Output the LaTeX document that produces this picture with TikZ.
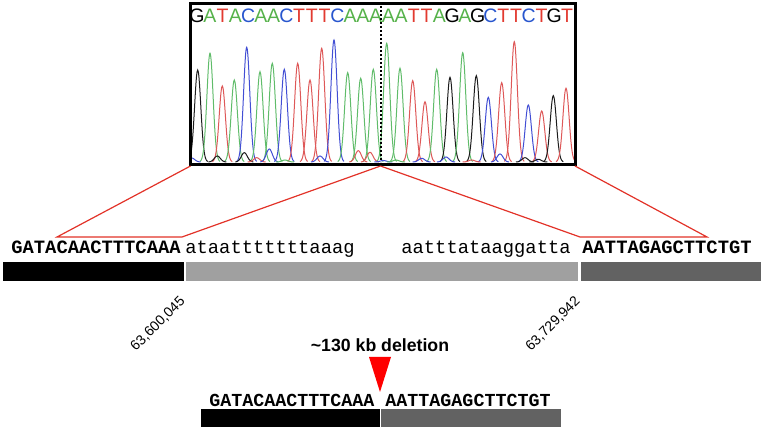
\documentclass[tikz,border=0pt]{standalone}
\usepackage{fontspec}
\setmainfont{Liberation Sans}
\newfontfamily\seqfont{Liberation Mono}
\usepackage{xcolor}
\usetikzlibrary{positioning,calc}
\definecolor{baseA}{RGB}{86,178,74}
\definecolor{baseT}{RGB}{226,58,48}
\definecolor{baseC}{RGB}{40,86,206}
\definecolor{baseG}{RGB}{0,0,0}
\definecolor{peakA}{RGB}{96,188,106}
\definecolor{peakT}{RGB}{222,88,88}
\definecolor{peakC}{RGB}{66,78,212}
\definecolor{peakG}{RGB}{28,28,28}
\definecolor{midgray}{RGB}{160,160,160}
\definecolor{deepgray}{RGB}{98,98,98}
\definecolor{zoomred}{RGB}{226,50,40}
\tikzset{
  basecall/.style={font=\fontsize{9.75}{10}\selectfont,inner sep=0pt,anchor=base},
  seqbold/.style={font=\seqfont\bfseries\fontsize{9.4}{10}\selectfont,inner sep=0pt,anchor=base west},
  seqlow/.style={font=\seqfont\fontsize{9.4}{10}\selectfont,inner sep=0pt,anchor=base west},
  joined/.style={font=\seqfont\bfseries\fontsize{9.17}{10}\selectfont,inner sep=0pt,anchor=base west},
  position/.style={font=\fontsize{7}{8}\selectfont,inner sep=0pt,rotate=45,anchor=east},
  zoomline/.style={draw=zoomred,line width=0.6pt},
  trace/.style={line width=0.5pt},
}

\begin{document}
\begin{tikzpicture}[x=0.5pt,y=-0.5pt]
  \useasboundingbox (0,0) rectangle (764,431);
  \coordinate (boxnw) at (190.5,3.5);
  \coordinate (boxse) at (575,164.5);
  \coordinate (boxsw) at (190.5,166);
  \coordinate (boxbr) at (575,166);
  \coordinate (cut) at (380.5,166);

  \begin{scope}
    \clip (boxnw) rectangle (boxse);
    \foreach \px/\py/\b in {197.7/70/G, 210/53.3/A, 222.3/86/T, 234.3/80/A, 246.7/47.3/C,
        260/71.7/A, 272.3/63.3/A, 284.3/69.3/C, 297.7/63.3/T, 310/80/T, 321.7/48.3/T,
        334/40/C, 347.7/72.7/A, 360.7/78.3/A, 373.3/69.3/A, 386.7/43.3/A, 400/68.3/A,
        412.7/80.7/T, 425/101.7/T, 436.7/69.3/A, 450/77.3/G, 462.7/52.7/A, 476.3/75.7/G,
        488.3/97.3/C, 501.7/82.7/T, 514.3/41.7/T, 528.3/105/C, 541.7/111/T, 553.3/95.7/G, 566/88.3/T}
      \draw[trace,peak\b] plot[domain=\px-10:\px+10,samples=33,smooth]
        (\x,{162-(162-\py)*exp(-((\x-\px)/3.1)^2/2)});
    \foreach \px/\py/\b in {191.7/158/C, 217.3/156/G, 244.3/152.7/G, 256.7/157.7/T, 269.3/149/C,
        285/160/A, 320/156/C, 358.3/150.7/T, 370/152.3/T, 383.3/160.5/C, 396/160/A,
        421.7/158.3/C, 446/157/C, 471.7/160/T, 500/154/C, 525/157.7/G, 538.3/159.3/G}
      \draw[trace,peak\b] plot[domain=\px-9:\px+9,samples=31,smooth]
        (\x,{162-(162-\py)*exp(-((\x-\px)/3)^2/2)});
  \end{scope}

  \foreach \b [count=\i from 0] in {G,A,T,A,C,A,A,C,T,T,T,C,A,A,A,A,A,T,T,A,G,A,G,C,T,T,C,T,G,T}
    \node[basecall,text=base\b] (call\i) at ({197+12.76*\i},22.7) {\b};

  \draw[line width=1pt,dash pattern=on 0.9pt off 1.1pt] (380.5,6) -- (380.5,162);
  \draw[line width=1.5pt] (boxnw) rectangle (boxse);

  \node[seqbold] (leftref) at (11,254) {GATACAACTTTCAAA};
  \node[seqlow] (leftdel) at (185,254) {ataatttttttaaag};
  \node[seqlow] (rightdel) at (401,254) {aatttataaggatta};
  \node[seqbold] (rightref) at (582,254) {AATTAGAGCTTCTGT};

  \coordinate (lz1) at (57,237);
  \coordinate (lz2) at (182,237);
  \coordinate (rz1) at (580,237);
  \coordinate (rz2) at (707,237);
  \draw[zoomline] (boxsw) -- (lz1) -- (lz2) -- (cut);
  \draw[zoomline] (cut) -- (rz1) -- (rz2) -- (boxbr);

  \fill[black] (3,262) rectangle (183.5,281);
  \fill[midgray] (185.5,262) rectangle (578,281);
  \fill[deepgray] (580.5,262) rectangle (761,281);

  \node[position] (startpos) at (183,299) {63,600,045};
  \node[position] (endpos) at (578,299) {63,729,942};

  \node[font=\bfseries\fontsize{8.85}{10}\selectfont,inner sep=0pt,anchor=base] (dellabel) at (380,352) {\textasciitilde130 kb deletion};
  \fill[red] (369,357) -- (391,357) -- (380,392) -- cycle;

  \node[joined] (fused) at (209,406.5) {GATACAACTTTCAAA AATTAGAGCTTCTGT};
  \fill[black] (201,409) rectangle (380,427.5);
  \fill[deepgray] (381,409) rectangle (560.5,427.5);
\end{tikzpicture}
\end{document}
